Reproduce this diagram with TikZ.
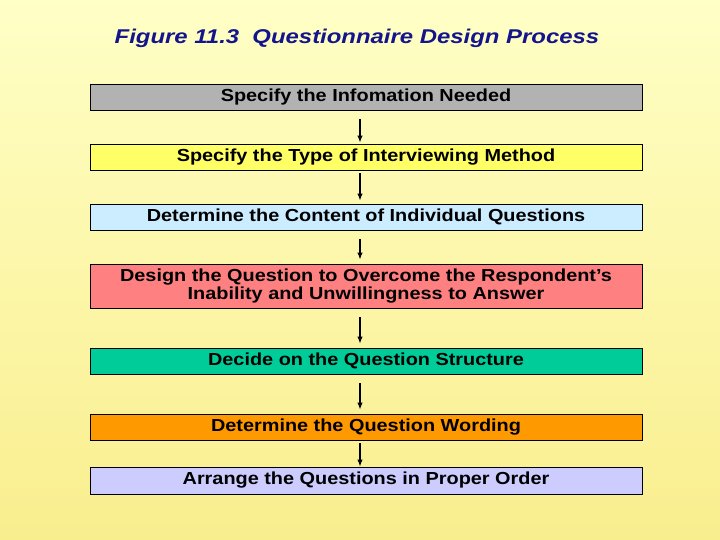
\documentclass[tikz,border=0pt]{standalone}
\usepackage{fontspec}
\setmainfont{Liberation Sans}
\newfontfamily\boxfont[FakeStretch=1.14]{Liberation Sans}
\newfontfamily\titlefont[FakeStretch=1.2]{Liberation Sans}
\usetikzlibrary{arrows.meta,calc}
\definecolor{bgtop}{HTML}{FFFFC6}
\definecolor{bgbot}{HTML}{F9EE8E}
\definecolor{titleblue}{HTML}{14148C}
\definecolor{cgray}{HTML}{B2B2B2}
\definecolor{cyellow}{HTML}{FFFF66}
\definecolor{cblue}{HTML}{CCECFF}
\definecolor{cred}{HTML}{FF8080}
\definecolor{cgreen}{HTML}{00CC99}
\definecolor{corange}{HTML}{FF9900}
\definecolor{cviolet}{HTML}{CCCCFF}
\tikzset{
  stepbox/.style={draw=black, line width=0.9bp, minimum width=552bp, inner sep=0pt,
    font=\boxfont\bfseries\fontsize{17.5}{19}\selectfont, text=black, align=center},
  arr/.style={-{Latex[length=7bp,width=5.5bp]}, line width=1.2bp, black}
}
\begin{document}
\begin{tikzpicture}[x=1bp,y=-1bp]
\shade[top color=bgtop, bottom color=bgbot] (0,0) rectangle (720,540);
\useasboundingbox (0,0) rectangle (720,540);
\node[font=\titlefont\bfseries\itshape\fontsize{20}{24}\selectfont, text=titleblue] (title) at (357,38.5) {Figure 11.3\ \ Questionnaire Design Process};
\node[stepbox, fill=cgray, minimum height=26bp] (b1) at (366,97) {Specify the Infomation Needed};
\node[stepbox, fill=cyellow, minimum height=26bp] (b2) at (366,157) {Specify the Type of Interviewing Method};
\node[stepbox, fill=cblue, minimum height=26bp] (b3) at (366,217) {Determine the Content of Individual Questions};
\node[stepbox, fill=cred, minimum height=44bp] (b4) at (366,286) {Design the Question to Overcome the Respondent’s\\Inability and Unwillingness to Answer};
\node[stepbox, fill=cgreen, minimum height=26bp] (b5) at (366,361) {Decide on the Question Structure};
\node[stepbox, fill=corange, minimum height=26bp] (b6) at (366,427) {Determine the Question Wording};
\node[stepbox, fill=cviolet, minimum height=27bp] (b7) at (366,480.5) {Arrange the Questions in Proper Order};
\draw[arr] ($(b1.south)+(-6,9)$) -- ($(b2.north)+(-6,-1)$);
\draw[arr] ($(b2.south)+(-6,3)$) -- ($(b3.north)+(-6,-3)$);
\draw[arr] ($(b3.south)+(-6,9)$) -- ($(b4.north)+(-6,-4)$);
\draw[arr] ($(b4.south)+(-6,9)$) -- ($(b5.north)+(-6,-4)$);
\draw[arr] ($(b5.south)+(-6,9)$) -- ($(b6.north)+(-6,-4)$);
\draw[arr] ($(b6.south)+(-6,3)$) -- ($(b7.north)+(-6,0)$);
\end{tikzpicture}
\end{document}
